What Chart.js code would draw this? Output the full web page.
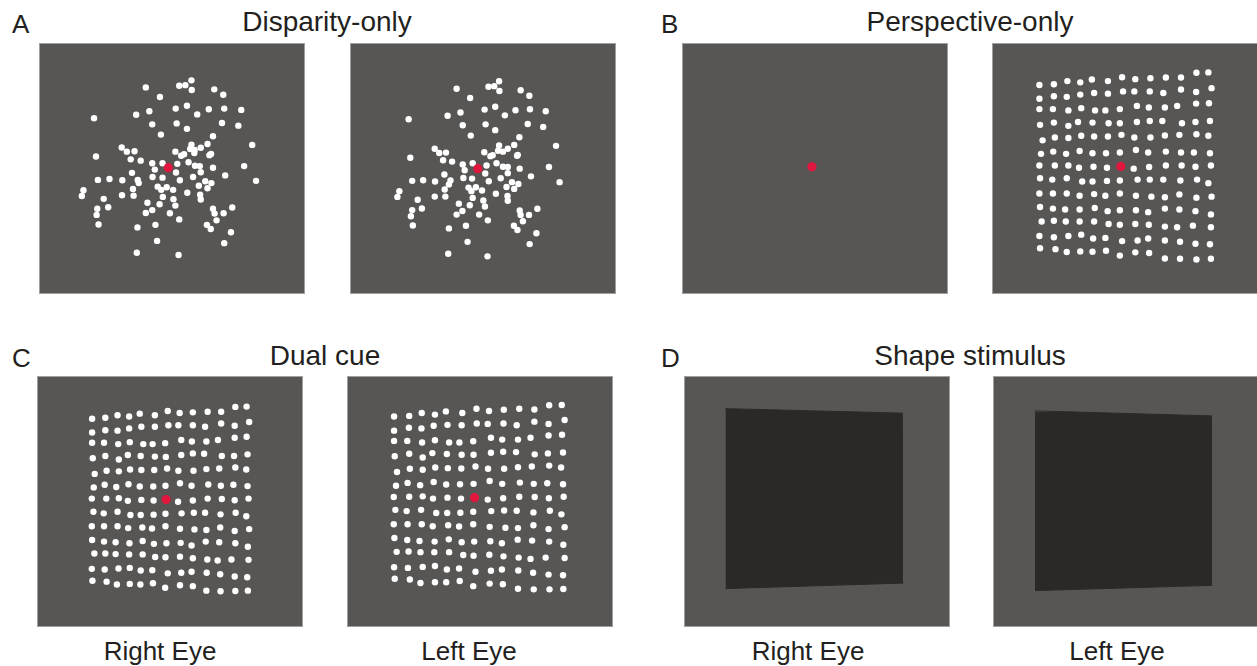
<!DOCTYPE html>
<html>
<head>
<meta charset="utf-8">
<script src="https://cdn.jsdelivr.net/npm/chart.js@4.4.1/dist/chart.umd.min.js"></script>
<style>
  body { margin: 0; width: 1257px; height: 666px; overflow: hidden; background: #fff;
         font-family: "Liberation Sans", Arial, sans-serif; color: #231f20; }
  .panel { position: absolute; }
  .txt { position: absolute; line-height: 1; white-space: nowrap; }
</style>
</head>
<body>
<script>
// ---- text ----
const panelLetters = ["A", "B", "C", "D"];
const panelTitles = ["Disparity-only", "Perspective-only", "Dual cue", "Shape stimulus"];
const eyeLabels = ["Right Eye", "Left Eye", "Right Eye", "Left Eye"];

// ---- dot positions (picture units, y grows downwards) ----
// A, disparity-only, right eye
const disparityRight = [
  [345,149],[449,144],[468,142],[487,127],[488,157],[558,155],[586,172],[389,179],
  [184,245],[315,234],[356,223],[438,215],[473,206],[505,233],[541,217],[589,215],[642,219],
  [365,264],[441,261],[473,278],[582,260],[633,268],[392,296],[554,301],[676,328],
  [270,336],[286,349],[310,348],[437,349],[455,362],[464,357],[487,327],[483,341],[496,353],
  [497,344],[516,337],[537,325],[543,360],[548,356],
  [190,364],[298,373],[329,377],[365,385],[373,405],[397,385],[443,387],[478,382],[498,393],
  [513,394],[516,413],[554,399],[651,394],
  [302,415],[366,428],[397,430],[439,414],[451,438],[492,428],[530,441],[549,447],[592,423],[688,440],
  [196,437],[232,434],[272,438],[320,437],[323,447],[305,465],[382,458],[393,468],[410,460],
  [430,468],[510,455],[537,463],
  [151,469],[146,487],[271,485],[307,486],[398,490],[431,497],[474,477],[514,483],[516,498],
  [214,496],[228,522],[194,527],[192,546],[198,576],[350,508],[388,513],[437,517],[365,531],
  [345,540],[420,541],[449,560],[554,527],[559,542],[587,541],[614,523],[565,563],
  [319,585],[375,577],[535,577],[547,590],[610,600],[380,627],[589,634],[317,664],[447,671]
];
const disparityRightFix = [[415,399]];

// A, disparity-only, left eye
const disparityLeft = [
  [331,153],[430,147],[448,145],[463,130],[464,160],[530,158],[557,175],[373,182],
  [182,248],[303,237],[343,227],[418,218],[451,209],[481,236],[514,220],[559,217],[608,223],
  [350,267],[421,264],[451,282],[552,263],[600,272],[375,299],[526,304],[640,331],
  [263,340],[277,353],[298,352],[417,351],[436,363],[443,360],[463,330],[460,346],[475,349],
  [490,340],[510,328],[519,362],[521,359],
  [187,368],[289,376],[317,380],[350,389],[356,407],[381,385],[424,392],[455,385],[475,396],
  [490,397],[490,416],[527,402],[618,397],
  [293,420],[352,431],[379,433],[420,417],[431,441],[468,432],[503,444],[523,450],[562,426],[651,444],
  [193,440],[227,438],[264,442],[312,439],[307,451],[294,467],[368,461],[377,472],[391,460],
  [410,470],[486,459],[510,465],
  [153,472],[147,490],[263,489],[296,489],[381,493],[414,501],[453,480],[489,487],[490,502],
  [210,499],[223,526],[193,531],[189,550],[195,579],[338,511],[372,516],[419,520],[349,534],
  [331,545],[401,545],[428,563],[527,532],[530,546],[556,546],[582,527],[537,566],
  [307,588],[360,580],[509,580],[520,593],[579,603],[365,630],[558,637],[305,667],[427,675]
];
const disparityLeftFix = [[397,402]];

// B, perspective-only: right eye sees only the fixation point (percent of panel)
const perspectiveRightFix = [[48.8, 49.3]];

// B, perspective-only, left eye
const perspectiveLeft = [
  [155,143],[200,141],[242,131],[282,135],[318,126],[368,131],[412,119],[453,125],[500,122],[548,120],[595,120],[643,105],[680,104],
  [155,186],[200,178],[240,180],[282,173],[325,168],[368,170],[415,163],[450,163],[498,163],[540,168],[595,157],[642,165],[690,153],
  [155,218],[197,218],[245,222],[285,215],[328,222],[360,222],[405,218],[458,208],[495,213],[545,213],[583,208],[642,201],[682,200],
  [157,267],[200,260],[245,270],[275,258],[320,260],[370,262],[405,262],[458,258],[498,255],[537,255],[598,262],[640,258],[685,255],
  [165,315],[203,306],[245,308],[285,301],[325,303],[368,303],[410,298],[450,306],[500,306],[545,300],[590,298],[643,296],[680,301],
  [160,357],[198,350],[238,357],[280,348],[320,355],[362,355],[405,353],[455,345],[493,353],[548,350],[595,353],[635,353],[685,355],
  [155,393],[203,393],[245,393],[278,400],[323,397],[365,400],[448,403],[496,398],[548,393],[597,393],[640,397],[688,393],
  [157,433],[195,437],[240,433],[288,443],[320,443],[365,441],[405,440],[460,437],[498,437],[540,437],[593,440],[645,437],[680,448],
  [155,480],[197,480],[240,480],[280,487],[325,482],[360,487],[405,480],[455,487],[503,490],[545,492],[590,483],[643,493],[690,490],
  [157,522],[197,527],[235,530],[280,530],[327,525],[367,535],[405,532],[455,532],[493,538],[545,527],[590,530],[640,535],[688,545],
  [162,567],[200,565],[237,567],[280,567],[325,567],[370,575],[405,577],[453,575],[495,577],[545,583],[583,585],[632,580],[688,585],
  [155,612],[200,616],[245,612],[285,608],[322,620],[360,618],[412,628],[460,626],[493,620],[545,626],[592,630],[640,636],[685,638],
  [157,650],[205,653],[240,662],[282,660],[320,661],[362,658],[405,673],[453,663],[496,665],[545,682],[592,683],[643,685],[688,683]
];
const perspectiveLeftFix = [[408,396]];

// C, dual cue, right eye
const dualRight = [
  [177,137],[218,134],[256,126],[292,130],[325,121],[372,126],[412,113],[449,119],[490,117],[536,115],[578,115],[622,100],[657,99],
  [177,180],[218,173],[256,174],[292,167],[330,162],[372,162],[414,157],[445,157],[490,157],[528,162],[578,152],[620,159],[665,147],
  [177,212],[214,212],[258,216],[294,210],[336,216],[365,216],[404,213],[454,203],[487,208],[532,208],[568,203],[620,196],[657,193],
  [179,260],[218,253],[260,264],[288,250],[328,253],[372,255],[406,256],[454,250],[490,245],[525,246],[580,253],[618,253],[660,248],
  [185,309],[222,299],[260,301],[295,295],[330,297],[370,297],[410,292],[445,299],[492,299],[532,294],[572,292],[622,289],[656,295],
  [182,351],[216,343],[252,350],[290,341],[325,348],[367,348],[405,346],[450,338],[486,346],[538,342],[577,346],[616,343],[660,347],
  [176,386],[221,386],[260,385],[288,393],[330,390],[368,392],[444,396],[490,392],[536,386],[580,387],[620,391],[663,386],
  [181,427],[213,432],[256,427],[296,437],[328,437],[368,436],[405,433],[455,432],[493,430],[528,430],[576,435],[623,430],[656,441],
  [176,472],[214,472],[256,472],[289,478],[333,476],[363,479],[405,472],[450,480],[495,482],[532,484],[575,476],[620,487],[665,481],
  [177,515],[214,520],[250,522],[293,525],[334,518],[369,527],[408,525],[452,524],[486,532],[530,520],[572,522],[622,525],[661,536],
  [184,557],[218,557],[250,559],[292,560],[334,560],[373,568],[405,569],[450,567],[490,572],[535,576],[567,579],[610,576],[663,577],
  [176,605],[216,607],[259,604],[294,602],[328,610],[364,609],[412,619],[454,617],[486,614],[533,617],[575,622],[620,629],[659,631],
  [178,642],[222,645],[254,654],[294,652],[327,654],[366,650],[404,664],[450,656],[490,659],[532,673],[576,675],[622,674],[661,673]
];
const dualRightFix = [[407,389]];

// C, dual cue, left eye
const dualLeft = [
  [154,130],[201,128],[240,119],[281,124],[315,114],[366,119],[410,106],[449,113],[495,109],[543,106],[590,108],[636,95],[675,94],
  [154,174],[200,165],[239,167],[277,159],[320,156],[364,157],[411,152],[445,153],[494,152],[535,157],[590,146],[634,153],[684,141],
  [154,206],[195,206],[241,211],[281,204],[325,211],[357,211],[400,207],[455,196],[490,202],[539,202],[578,196],[634,189],[676,187],
  [156,254],[201,246],[243,258],[273,244],[318,247],[364,249],[401,249],[455,243],[493,240],[533,241],[591,248],[632,245],[679,242],
  [163,303],[203,293],[243,296],[282,289],[321,291],[363,292],[407,286],[446,293],[496,293],[539,288],[582,286],[636,283],[673,289],
  [160,346],[196,337],[235,344],[277,334],[316,342],[359,341],[401,340],[451,331],[490,340],[545,336],[588,340],[630,338],[679,341],
  [153,381],[201,380],[243,379],[275,386],[320,383],[362,386],[445,389],[493,385],[543,380],[591,381],[635,385],[681,380],
  [158,421],[193,425],[238,421],[285,431],[319,431],[360,430],[400,427],[456,425],[496,423],[535,424],[587,429],[638,424],[674,435],
  [153,466],[196,466],[240,466],[274,472],[322,469],[356,473],[400,466],[451,474],[500,477],[539,478],[587,469],[634,481],[684,475],
  [155,509],[195,515],[233,518],[280,520],[324,513],[364,522],[403,520],[453,519],[489,525],[538,514],[583,517],[636,520],[680,530],
  [162,552],[199,551],[236,553],[279,553],[325,553],[369,562],[401,564],[450,561],[494,566],[541,570],[578,574],[625,570],[684,571],
  [154,600],[197,602],[243,599],[281,596],[318,607],[356,604],[407,614],[455,611],[489,607],[540,610],[586,617],[634,623],[679,625],
  [156,636],[203,638],[236,649],[281,647],[316,647],[358,643],[400,659],[451,651],[492,653],[539,667],[588,669],[637,669],[680,668]
];
const dualLeftFix = [[404,383]];

// D, shape stimulus: dark quadrilateral, top and bottom edges (percent of panel)
const shapeRightTop = [[15.5,13.0],[82.3,14.8]];
const shapeRightBottom = [[15.6,84.7],[82.5,82.5]];
const shapeLeftTop = [[15.6,13.9],[82.3,15.9]];
const shapeLeftBottom = [[15.8,85.5],[82.5,83.4]];

// ---- layout ----
const PANEL_W = 266, PANEL_H = 251;
const GRAY = "#575654", EDGE = "#a09f9d", WHITE = "#ffffff", RED = "#e2173f", DARK = "#2b2825";

const panelBg = {
  id: "panelBg",
  beforeDraw(chart, args, opts) {
    const { ctx, width, height } = chart;
    ctx.save();
    ctx.fillStyle = opts.fill;
    ctx.fillRect(0, 0, width, height);
    ctx.strokeStyle = opts.edge;
    ctx.lineWidth = 1;
    ctx.strokeRect(0.5, 0.5, width - 1, height - 1);
    ctx.restore();
  }
};

const toXY = (pts) => pts.map(([x, y]) => ({ x, y }));

const dotSets = (dots, fix) => {
  const sets = [{
    data: toXY(fix), pointRadius: 4.6, pointBackgroundColor: RED,
    pointBorderWidth: 0, order: 0
  }];
  if (dots) sets.push({
    data: toXY(dots), pointRadius: 3.2, pointBackgroundColor: WHITE,
    pointBorderWidth: 0, order: 1
  });
  return sets;
};

const shapeSets = (top, bottom) => [
  { data: toXY(top), showLine: true, borderColor: DARK, borderWidth: 1, pointRadius: 0, fill: false },
  { data: toXY(bottom), showLine: true, borderColor: DARK, borderWidth: 1, pointRadius: 0,
    fill: "-1", backgroundColor: DARK }
];

const makePanel = (left, top, datasets, range) => {
  const canvas = document.createElement("canvas");
  canvas.className = "panel";
  canvas.width = PANEL_W;
  canvas.height = PANEL_H;
  canvas.style.left = left + "px";
  canvas.style.top = top + "px";
  document.body.appendChild(canvas);
  new Chart(canvas.getContext("2d"), {
    type: "scatter",
    data: { datasets },
    options: {
      responsive: false,
      animation: false,
      layout: { padding: 0 },
      plugins: {
        legend: { display: false },
        tooltip: { enabled: false },
        panelBg: { fill: GRAY, edge: EDGE },
      },
      scales: {
        x: { display: false, min: range[0], max: range[1] },
        y: { display: false, min: range[2], max: range[3], reverse: true },
      },
    },
    plugins: [panelBg],
  });
};

const pct = [0, 100, 0, 100];

makePanel(39, 43, dotSets(disparityRight, disparityRightFix), [27, 826, 25, 778]);
makePanel(350, 43, dotSets(disparityLeft, disparityLeftFix), [14, 812, 25, 778]);
makePanel(682, 43, dotSets(null, perspectiveRightFix), pct);
makePanel(992, 43, dotSets(perspectiveLeft, perspectiveLeftFix), [22, 820, 27, 778]);
makePanel(37, 376, dotSets(dualRight, dualRightFix), [20, 818, 18, 772]);
makePanel(347, 376, dotSets(dualLeft, dualLeftFix), [22, 820, 18, 772]);
makePanel(684, 376, shapeSets(shapeRightTop, shapeRightBottom), pct);
makePanel(993, 376, shapeSets(shapeLeftTop, shapeLeftBottom), pct);

// ---- text ----
const addText = (str, x, top, size, center) => {
  const d = document.createElement("div");
  d.className = "txt";
  d.textContent = str;
  d.style.left = x + "px";
  d.style.top = top + "px";
  d.style.fontSize = size + "px";
  if (center) d.style.transform = "translateX(-50%)";
  document.body.appendChild(d);
};

const letterPos = [[12, 11], [661, 11], [12, 345], [661, 345]];
const titlePos = [[327, 8], [970, 8], [325, 342], [970, 342]];
const eyePos = [160, 469, 808, 1117];

panelLetters.forEach((t, i) => addText(t, letterPos[i][0], letterPos[i][1], 26, false));
panelTitles.forEach((t, i) => addText(t, titlePos[i][0], titlePos[i][1], 28, true));
eyeLabels.forEach((t, i) => addText(t, eyePos[i], 638, 26, true));
</script>
</body>
</html>
